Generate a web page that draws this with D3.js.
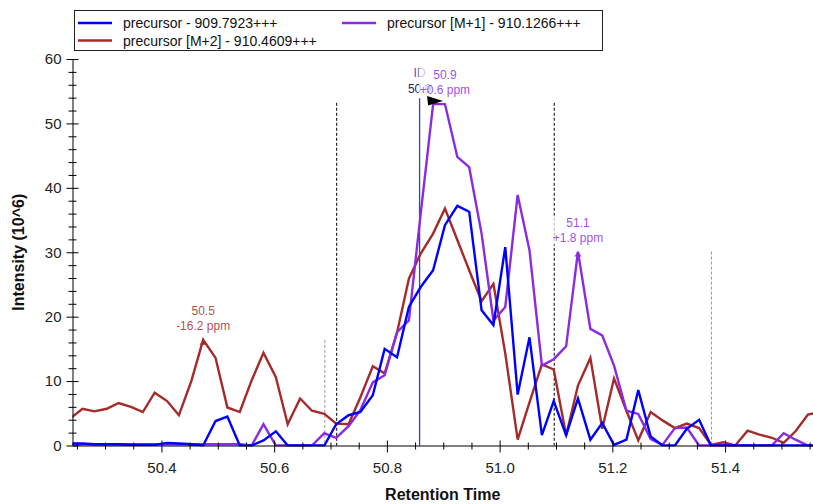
<!DOCTYPE html>
<html><head><meta charset="utf-8">
<script src="https://cdn.jsdelivr.net/npm/d3@7"></script>
<style>
html,body{margin:0;padding:0;background:#fff;}
svg{display:block;font-family:"Liberation Sans",Arial,sans-serif;}
</style></head>
<body>
<svg id="chart" width="813" height="504"></svg>
<script>
// ---------------- data ----------------
const times = [50.238,50.260,50.281,50.303,50.324,50.346,50.367,50.388,50.410,50.431,50.453,50.474,50.496,50.517,50.539,50.560,50.581,50.603,50.624,50.646,50.667,50.689,50.710,50.732,50.753,50.775,50.796,50.818,50.839,50.860,50.882,50.903,50.925,50.946,50.968,50.989,51.010,51.032,51.053,51.075,51.096,51.118,51.139,51.161,51.182,51.203,51.225,51.246,51.268,51.289,51.311,51.332,51.354,51.375,51.397,51.418,51.440,51.461,51.483,51.504,51.525,51.547,51.568];
const precursor = [0.3,0.3,0.2,0.2,0.2,0.1,0.1,0.1,0.4,0.3,0.2,0,3.8,4.5,0,0,0.8,2.2,0,0,0,0,3.3,4.7,5.2,7.8,15.0,13.7,21.5,24.6,27.2,34.2,37.2,36.3,21.0,18.7,30.8,7.9,16.8,1.6,6.9,1.6,7.3,0.9,3.5,0.1,0.9,8.6,1.4,0,0,2.6,4.0,0,0,0,0,0,0,0,0,0,0];
const precursorM1 = [0.2,0.2,0.2,0.2,0.2,0.2,0.2,0.2,0.2,0.2,0.2,0.2,0.2,0.2,0.2,0,3.3,0,0,0,0,1.9,1.2,3.0,5.5,9.8,10.9,17.6,19.4,36.0,53.0,53.0,44.8,43.2,32.9,19.4,21.5,38.9,30.3,12.4,13.4,15.4,30.1,18.1,17.1,12.4,5.4,4.9,1.0,0.1,2.7,2.8,0,0,0,0,0,0,0,1.9,0.9,0,0];
const precursorM2 = [4.2,5.7,5.3,5.7,6.6,6.0,5.2,8.2,6.9,4.7,10.0,16.4,13.6,5.9,5.2,10.1,14.4,10.6,3.3,7.3,5.4,4.9,3.4,3.3,7.5,12.3,11.2,17.5,25.9,29.8,32.9,36.8,31.9,27.2,22.4,25.1,14.3,0.9,6.7,12.6,11.8,1.6,9.3,13.6,2.6,10.4,5.4,0.8,5.2,3.9,2.7,3.4,2.7,0.1,0.5,0,2.3,1.7,1.2,0.4,2.2,4.8,5.2];

const seriesNames = ["precursor - 909.7923+++", "precursor [M+1] - 910.1266+++", "precursor [M+2] - 910.4609+++"];
const seriesColors = ["#0000ff", "#8a2be2", "#a52a2a"];

const xTickValues = [50.4, 50.6, 50.8, 51.0, 51.2, 51.4];
const xMinorTicks = [50.25,50.3,50.35,50.45,50.5,50.55,50.65,50.7,50.75,50.85,50.9,50.95,51.05,51.1,51.15,51.25,51.3,51.35,51.45,51.5,51.55];
const yTickValues = [0, 10, 20, 30, 40, 50, 60];
const yMinorTicks = [2,4,6,8,12,14,16,18,22,24,26,28,32,34,36,38,42,44,46,48,52,54,56,58];

// peak integration boundaries (black dashed) and other-peak boundaries (grey dashed)
const boundaryTimes = [50.710, 51.096];
const boundaryTop = 53.2;
const otherBoundaryTimes = [50.689, 51.375];
const otherBoundaryTops = [16.4, 30.1];
// identification line
const idTime = 50.858;
const idTop = 53.9;
// peak labels
const peakLabelSeries = [2, 1, 1];
const peakLabelTimes = [50.474, 51.139, 50.903];
const peakLabelValues = [16.4, 30.1, 53.0];
const peakLabelLine1 = ["50.5", "51.1", "50.9"];
const peakLabelLine2 = ["-16.2 ppm", "+1.8 ppm", "+0.6 ppm"];
const idLabel = ["ID", "50.9"];

// ---------------- chart ----------------
const svg = d3.select("#chart");
const W = 813, H = 504;
const plotLeft = 72.5, plotRight = 813, plotTop = 59, plotBottom = 445.5;

const x = d3.scaleLinear().domain([50.2422, 51.556]).range([plotLeft, plotRight]);
const y = d3.scaleLinear().domain([0, 60]).range([plotBottom, plotTop]);

svg.append("rect").attr("width", W).attr("height", H).attr("fill", "#fff");

svg.append("defs").append("clipPath").attr("id", "clip")
  .append("rect").attr("x", plotLeft).attr("y", 0).attr("width", plotRight - plotLeft).attr("height", plotBottom + 1);

const plot = svg.append("g").attr("clip-path", "url(#clip)");

// boundaries
plot.selectAll("line.other").data(otherBoundaryTimes).join("line")
  .attr("class", "other")
  .attr("x1", d => x(d) + 0.5).attr("x2", d => x(d) + 0.5)
  .attr("y1", (d, i) => y(otherBoundaryTops[i])).attr("y2", y(0))
  .attr("stroke", "#999").attr("stroke-width", 1).attr("stroke-dasharray", "3,2");

plot.selectAll("line.bound").data(boundaryTimes).join("line")
  .attr("class", "bound")
  .attr("x1", d => x(d) + 0.5).attr("x2", d => x(d) + 0.5)
  .attr("y1", y(boundaryTop)).attr("y2", y(0))
  .attr("stroke", "#000").attr("stroke-width", 1).attr("stroke-dasharray", "3,2");

plot.append("line")
  .attr("x1", x(idTime)).attr("x2", x(idTime))
  .attr("y1", y(idTop)).attr("y2", y(0))
  .attr("stroke", "#3c3cc0").attr("stroke-width", 1.3);

// series
const allSeries = [precursor, precursorM1, precursorM2];
const line = d3.line().x((d, i) => x(times[i])).y(d => y(d));
const drawOrder = [2, 1, 0];
drawOrder.forEach(k => {
  plot.append("path").datum(allSeries[k])
    .attr("d", line)
    .attr("fill", "none")
    .attr("stroke", seriesColors[k])
    .attr("stroke-width", 2.4)
    .attr("stroke-linejoin", "miter");
});

// small peak markers
[0, 1].forEach(j => {
  const px = x(peakLabelTimes[j]), py = y(peakLabelValues[j]);
  plot.append("path")
    .attr("d", `M${px - 3.5},${py + 5} L${px},${py} L${px + 3.5},${py + 5} Z`)
    .attr("fill", seriesColors[peakLabelSeries[j]]);
});

// ---------------- axes ----------------
const gx = svg.append("g").attr("transform", `translate(0,${plotBottom})`);
gx.append("g").call(d3.axisBottom(x).tickValues(xMinorTicks).tickSize(4).tickFormat(""))
  .call(g => g.select(".domain").remove())
  .call(g => g.selectAll(".tick line").attr("y1", -3).attr("stroke", "#000"));
gx.append("g").call(d3.axisBottom(x).tickValues(xTickValues).tickSize(7).tickSizeOuter(0).tickFormat(d3.format(".1f")))
  .call(g => g.select(".domain").attr("stroke", "#000"))
  .call(g => g.selectAll(".tick line").attr("y1", -5).attr("stroke", "#000"))
  .call(g => g.selectAll(".tick text").attr("font-size", 15).attr("fill", "#222").attr("dy", "1.15em"));

const gy = svg.append("g").attr("transform", `translate(${plotLeft},0)`);
gy.append("g").call(d3.axisLeft(y).tickValues(yMinorTicks).tickSize(4).tickFormat(""))
  .call(g => g.select(".domain").remove())
  .call(g => g.selectAll(".tick line").attr("x1", 4).attr("stroke", "#000"));
gy.append("g").call(d3.axisLeft(y).tickValues(yTickValues).tickSize(6).tickSizeOuter(0))
  .call(g => g.select(".domain").attr("stroke", "#000"))
  .call(g => g.selectAll(".tick line").attr("x1", 6).attr("stroke", "#000"))
  .call(g => g.selectAll(".tick text").attr("font-size", 15).attr("fill", "#222").attr("x", -11));

svg.append("text")
  .attr("x", (plotLeft + plotRight) / 2).attr("y", 500)
  .attr("text-anchor", "middle").attr("font-size", 16).attr("font-weight", "bold").attr("fill", "#111")
  .text("Retention Time");
svg.append("text")
  .attr("transform", `translate(24,${(plotTop + plotBottom) / 2}) rotate(-90)`)
  .attr("text-anchor", "middle").attr("font-size", 16).attr("font-weight", "bold").attr("fill", "#111")
  .text("Intensity (10^6)");

// ---------------- peak labels ----------------
// ID label (blue)
const idX = x(idTime), idY = y(idTop);
const idG = svg.append("g").attr("font-size", 12).attr("text-anchor", "middle");
idG.append("text").attr("x", idX).attr("y", idY - 21).attr("fill", "#5050b0").text(idLabel[0]);
idG.append("text").attr("x", idX).attr("y", idY - 5).attr("fill", "#20207a").text(idLabel[1]);

peakLabelSeries.forEach((s, j) => {
  const px = x(peakLabelTimes[j]), py = y(peakLabelValues[j]);
  const g = svg.append("g").attr("font-size", 12).attr("text-anchor", "middle");
  const t1 = g.append("text").attr("x", px).attr("y", py - 25).attr("fill", seriesColors[s]).text(peakLabelLine1[j]);
  const t2 = g.append("text").attr("x", px).attr("y", py - 10).attr("fill", seriesColors[s]).text(peakLabelLine2[j]);
  const b1 = t1.node().getBBox(), b2 = t2.node().getBBox();
  const bx = Math.min(b1.x, b2.x), bw = Math.max(b1.x + b1.width, b2.x + b2.width) - bx;
  g.insert("rect", "text").attr("x", bx - 1).attr("y", b1.y).attr("width", bw + 2)
    .attr("height", b2.y + b2.height - b1.y).attr("fill", "#fff").attr("fill-opacity", 0.7);
  g.selectAll("text").attr("fill-opacity", 0.85);
});

// flag marker at main apex
{
  const ax = x(times[30]), ay = y(precursorM1[30]);
  svg.append("path")
    .attr("d", `M${ax - 6},${ay - 8} L${ax + 10},${ay - 3} L${ax - 5},${ay + 1.5} Z`)
    .attr("fill", "#000");
}

// ---------------- legend ----------------
const lg = svg.append("g");
lg.append("rect").attr("x", 74.5).attr("y", 10.5).attr("width", 528).attr("height", 40)
  .attr("fill", "#fff").attr("stroke", "#222").attr("stroke-width", 1);
const legendPos = [[78, 23], [342, 23], [78, 40.5]];
seriesNames.forEach((n, k) => {
  const [lx, ly] = legendPos[k];
  lg.append("line").attr("x1", lx).attr("x2", lx + 34).attr("y1", ly).attr("y2", ly)
    .attr("stroke", seriesColors[k]).attr("stroke-width", 2.4);
  lg.append("text").attr("x", lx + 45).attr("y", ly + 5).attr("font-size", 14).attr("fill", "#111").text(n);
});
</script>
</body></html>
